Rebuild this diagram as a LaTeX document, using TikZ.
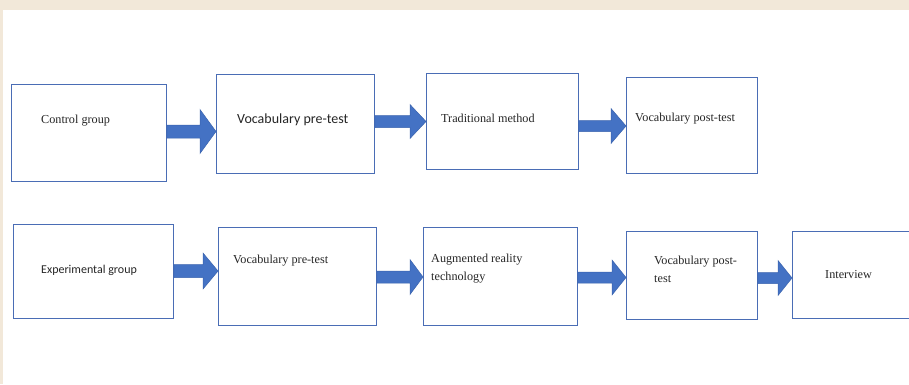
\documentclass[tikz,border=0pt]{standalone}
\usepackage{fontspec}
\setmainfont{Liberation Serif}
\newfontfamily\calibri{Carlito}
\usetikzlibrary{calc}
\definecolor{bgbeige}{HTML}{F2E8D9}
\definecolor{boxblue}{HTML}{4A6DB5}
\definecolor{arrblue}{HTML}{4472C4}
\definecolor{arredge}{HTML}{3A63AE}
\definecolor{txt}{HTML}{262626}
\tikzset{
  box/.style={draw=boxblue, line width=0.9pt, fill=white, inner sep=0pt, anchor=north west},
  lbl/.style={anchor=west, inner sep=0pt, text=txt, font=\fontsize{12.2}{18}\selectfont, align=left},
  slbl/.style={anchor=west, inner sep=0pt, text=txt, font=\calibri\fontsize{12}{14}\selectfont},
  blockarr/.style={fill=arrblue, draw=arredge, line width=0.5pt, line join=miter}
}
% \barrow{from}{to}{y centre}{shaft half}{head half}{head length}
\newcommand{\barrow}[6]{%
  \filldraw[blockarr] let \p1=(#1.east), \p2=(#2.west), \p3=(0,#3) in
    (\x1,\y3+#4pt) -- (\x2-#6pt,\y3+#4pt) -- (\x2-#6pt,\y3+#5pt) -- (\x2,\y3)
    -- (\x2-#6pt,\y3-#5pt) -- (\x2-#6pt,\y3-#4pt) -- (\x1,\y3-#4pt) -- cycle;}
\begin{document}
\begin{tikzpicture}[x=1pt,y=-1pt]
\fill[bgbeige] (0,0) rectangle (909,384);
\fill[white] (3,10) rectangle (909,384);
\useasboundingbox (0,0) rectangle (909,384);

% row 1 boxes
\node[box, minimum width=155pt, minimum height=97pt] (cg) at (11,84) {};
\node[box, minimum width=158pt, minimum height=99pt] (pre1) at (216,74) {};
\node[box, minimum width=152pt, minimum height=96pt] (trad) at (426,73) {};
\node[box, minimum width=131pt, minimum height=96pt] (post1) at (626,77) {};
% row 2 boxes
\node[box, minimum width=160pt, minimum height=94pt] (eg) at (13,224) {};
\node[box, minimum width=158pt, minimum height=98pt] (pre2) at (218,227) {};
\node[box, minimum width=154pt, minimum height=98pt] (ar) at (423,227) {};
\node[box, minimum width=131pt, minimum height=88pt] (post2) at (626,231) {};
\node[box, minimum width=122pt, minimum height=87pt] (intv) at (792,231) {};

% labels
\node[lbl] (tcg) at (41,121) {Control group};
\node[slbl, font=\calibri\fontsize{14}{16}\selectfont] (tpre1) at (237,120) {Vocabulary pre-test};
\node[lbl] (ttrad) at (441,118) {Traditional method};
\node[lbl] (tpost1) at (635,119) {Vocabulary post-test};
\node[slbl] (teg) at (41,270) {Experimental group};
\node[lbl] (tpre2) at (233,261) {Vocabulary pre-test};
\node[lbl] (tar) at (431,269) {Augmented reality\\technology};
\node[lbl] (tpost2) at (654,269) {Vocabulary post-\\test};
\node[lbl] (tintv) at (825,275) {Interview};

% block arrows
\barrow{cg}{pre1}{131.5}{6.5}{22}{16}
\barrow{pre1}{trad}{121.5}{6}{17}{16}
\barrow{trad}{post1}{126}{5.5}{17.5}{15}
\barrow{eg}{pre2}{271}{6.5}{18}{15}
\barrow{pre2}{ar}{277}{6}{17.5}{13}
\barrow{ar}{post2}{277.5}{5.5}{17.5}{14}
\barrow{post2}{intv}{278}{5.5}{17.5}{14}
\end{tikzpicture}
\end{document}
